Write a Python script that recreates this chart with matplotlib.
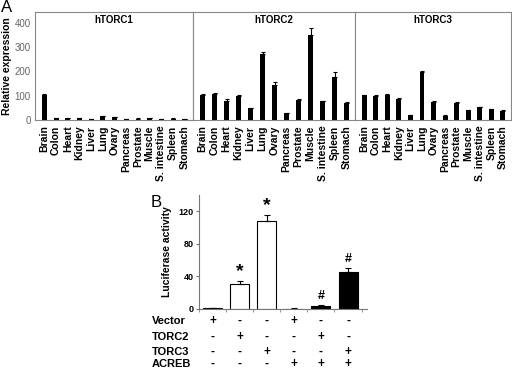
import matplotlib.pyplot as plt
import numpy as np

plt.rcParams["font.family"] = ["Liberation Sans", "DejaVu Sans"]

W, H = 512, 370

tissues = ["Brain", "Colon", "Heart", "Kidney", "Liver", "Lung", "Ovary", "Pancreas",
           "Prostate", "Muscle", "S. intestine", "Spleen", "Stomach"]
panel_titles = ["hTORC1", "hTORC2", "hTORC3"]
torc1 = [105, 8, 8, 8, 3, 15, 13, 3, 6, 8, 5, 6, 3]
torc1_err = [2, 1, 1, 1, 1, 2, 1, 1, 1, 1, 1, 1, 1]
torc2 = [103, 107, 78, 99, 48, 272, 144, 27, 82, 350, 77, 176, 71]
torc2_err = [5, 3, 9, 4, 3, 9, 14, 2, 4, 30, 3, 22, 4]
torc3 = [103, 100, 104, 88, 21, 197, 76, 18, 71, 40, 52, 44, 38]
torc3_err = [2, 2, 4, 3, 1, 6, 3, 1, 2, 2, 2, 2, 2]

luc_values = [1, 31, 108, 0.5, 4, 45]
luc_err = [0.6, 3, 7, 0.3, 1, 5]
luc_fill = ["white", "white", "white", "black", "black", "black"]
luc_marks = ["", "*", "*", "", "#", "#"]
row_labels = ["Vector", "TORC2", "TORC3", "ACREB"]
row_signs = [
    ["+", "-", "-", "+", "-", "-"],
    ["-", "+", "-", "-", "+", "-"],
    ["-", "-", "+", "-", "-", "+"],
    ["-", "-", "-", "+", "+", "+"],
]


def px_axes(fig, x0, y0, x1, y1):
    return fig.add_axes([x0 / W, 1 - y1 / H, (x1 - x0) / W, (y1 - y0) / H])


fig = plt.figure(figsize=(W / 100, H / 100), dpi=100)

# Panel A: three tissue panels sharing one y scale
edges = [35, 193, 355, 511]
grey = "#888888"
for i, (vals, errs) in enumerate(zip([torc1, torc2, torc3], [torc1_err, torc2_err, torc3_err])):
    ax = px_axes(fig, edges[i], 12, edges[i + 1], 120)
    x = np.arange(len(tissues))
    ax.bar(x, vals, width=0.42, color="black",
           yerr=[np.zeros(len(errs)), errs],
           error_kw=dict(ecolor="black", elinewidth=0.8, capsize=1.5, capthick=0.8))
    ax.set_xlim(-0.8, len(tissues) - 0.3)
    ax.set_ylim(0, 445)
    ax.set_xticks(x)
    ax.set_xticklabels(tissues, rotation=90, fontsize=7.5, fontweight="bold")
    ax.tick_params(axis="x", length=0, pad=4)
    for s in ax.spines.values():
        s.set_color(grey)
        s.set_linewidth(0.8)
    ax.text(0.5, 0.93, panel_titles[i], transform=ax.transAxes, ha="center", va="center",
            fontsize=7, fontweight="bold")
    if i == 0:
        ax.set_yticks([0, 100, 200, 300, 400])
        ax.tick_params(axis="y", length=0, labelsize=7, labelcolor="#666666", pad=3)
    else:
        ax.set_yticks([])

fig.text(7 / W, 1 - 66 / H, "Relative expression", rotation=90, fontsize=7.5,
         fontweight="bold", ha="center", va="center")
fig.text(1 / W, 1 - 8 / H, "A", fontsize=12, ha="left", va="center")

# Panel B: luciferase assay
axb = px_axes(fig, 199, 195, 367, 309)
xb = np.arange(len(luc_values))
axb.bar(xb, luc_values, width=0.7, color=luc_fill, edgecolor="black", linewidth=0.8,
        yerr=[np.zeros(len(luc_err)), luc_err],
        error_kw=dict(ecolor="black", elinewidth=0.8, capsize=2, capthick=0.8))
for xi, v, e, m in zip(xb, luc_values, luc_err, luc_marks):
    if m == "*":
        axb.text(xi, v + e + 1, m, ha="center", va="bottom", fontsize=14, fontweight="bold")
    elif m == "#":
        axb.text(xi, v + e + 4, m, ha="center", va="bottom", fontsize=9, fontweight="bold")
axb.set_xlim(-0.48, 5.7)
axb.set_ylim(0, 140)
axb.set_yticks([0, 40, 80, 120])
axb.set_xticks(np.arange(-0.5, 6, 1.0))
axb.set_xticklabels([])
axb.tick_params(axis="x", length=2, color="#999999")
axb.tick_params(axis="y", length=2, labelsize=6.5, pad=2, color="#777777")
for lab in axb.get_yticklabels():
    lab.set_fontweight("bold")
axb.spines["top"].set_visible(False)
axb.spines["right"].set_visible(False)
axb.spines["left"].set_color("#777777")
axb.spines["bottom"].set_color("#777777")
fig.text(167 / W, 1 - 252 / H, "Luciferase activity", rotation=90, fontsize=7.5,
         fontweight="bold", ha="center", va="center")
fig.text(151 / W, 1 - 203 / H, "B", fontsize=12, ha="left", va="center")

row_y = [321, 337, 352, 364]
for lab, signs, yy in zip(row_labels, row_signs, row_y):
    fig.text(152 / W, 1 - yy / H, lab, fontsize=8, fontweight="bold", ha="left", va="center")
    for xi, s in zip(xb, signs):
        xd = axb.transData.transform((xi, 0))[0]
        fig.text(xd / W, 1 - yy / H, s, fontsize=8.5, fontweight="bold",
                 ha="center", va="center")

fig.savefig("out.png", dpi=100)
